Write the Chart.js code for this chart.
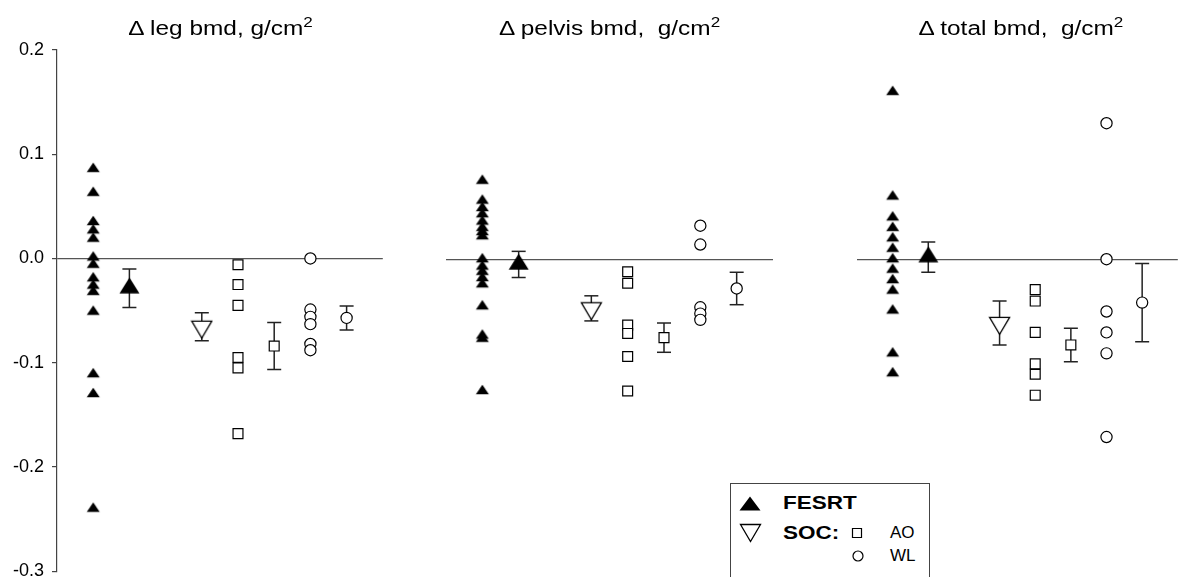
<!DOCTYPE html>
<html>
<head>
<meta charset="utf-8">
<script src="https://cdn.jsdelivr.net/npm/chart.js@4"></script>
<style>
  html, body { margin: 0; padding: 0; background: #fff; overflow: hidden; width: 1187px; height: 577px; }
  #wrap { position: relative; width: 1187px; height: 577px; overflow: hidden; font-family: "Liberation Sans", Arial, sans-serif; color: #000; }
  canvas.panel { position: absolute; top: 0; }
  .title { position: absolute; top: 16px; width: 340px; text-align: center; font-size: 20px; line-height: 24px; white-space: nowrap; }
  .title .t { display: inline-block; transform: scaleX(1.22); white-space: pre; }
  .title .sup { font-size: 14px; position: relative; top: -8px; }
  #legend { position: absolute; left: 730px; top: 483px; width: 200px; height: 110px; border: 1px solid #444; background: #fff; box-sizing: border-box; }
  .lg { position: absolute; white-space: nowrap; line-height: 20px; }
  .lg.bold { font-weight: bold; font-size: 18px; transform: scaleX(1.25); transform-origin: left center; }
  .lg.reg { font-size: 17px; }
  .mk { position: absolute; }
</style>
</head>
<body>
<div id="wrap">
  <canvas id="c0" class="panel"></canvas>
  <canvas id="c1" class="panel"></canvas>
  <canvas id="c2" class="panel"></canvas>
  <div id="legend"></div>
</div>
<script>
// titles and axis
const panelTitles = ['Δ leg bmd, g/cm', 'Δ pelvis bmd,  g/cm', 'Δ total bmd,  g/cm'];
const yTicks = [0.2, 0.1, 0.0, -0.1, -0.2, -0.3];
const yTickLabels = ['0.2', '0.1', '0.0', '-0.1', '-0.2', '-0.3'];

// column slot of each group along a panel (x runs 0..9)
const groupSlots = { fesrt: 1, fesrtMean: 2, socMean: 4, ao: 5, aoMean: 6, wl: 7, wlMean: 8 };

// individual changes, per panel: leg, pelvis, total
const fesrtLeg = [0.086, 0.063, 0.035, 0.027, 0.019, 0.001, -0.006, -0.019, -0.026, -0.032, -0.051, -0.111, -0.130, -0.240];
const fesrtPelvis = [0.075, 0.056, 0.049, 0.043, 0.036, 0.030, 0.026, 0.022, 0.0, -0.007, -0.012, -0.018, -0.024, -0.045, -0.073, -0.076, -0.126];
const fesrtTotal = [0.160, 0.060, 0.040, 0.030, 0.020, 0.010, 0.0, -0.010, -0.020, -0.030, -0.049, -0.090, -0.109];

const aoLeg = [-0.006, -0.025, -0.045, -0.095, -0.105, -0.168];
const aoPelvis = [-0.012, -0.023, -0.063, -0.071, -0.093, -0.126];
const aoTotal = [-0.029, -0.040, -0.070, -0.100, -0.110, -0.130];

const wlLeg = [0.0, -0.049, -0.056, -0.063, -0.082, -0.088];
const wlPelvis = [0.032, 0.014, -0.046, -0.052, -0.058];
const wlTotal = [0.130, 0.0, -0.050, -0.070, -0.090, -0.170];

// group means and error bars (leg, pelvis, total)
const fesrtMean = [-0.0285, -0.005, 0.002];
const fesrtErr = [0.0185, 0.0125, 0.0145];
const socMean = [-0.0655, -0.047, -0.061];
const socErr = [0.0135, 0.012, 0.021];
const aoMean = [-0.084, -0.075, -0.082];
const aoErr = [0.0225, 0.014, 0.016];
const wlMean = [-0.057, -0.028, -0.0415];
const wlErr = [0.0115, 0.0155, 0.0375];

const fesrtPoints = [fesrtLeg, fesrtPelvis, fesrtTotal];
const aoPoints = [aoLeg, aoPelvis, aoTotal];
const wlPoints = [wlLeg, wlPelvis, wlTotal];

// canvas placement of each panel
const panelBoxes = [
  { left: 0, width: 392, padL: 0, padR: 7 },
  { left: 436, width: 347, padL: 10, padR: 10 },
  { left: 847, width: 340, padL: 10, padR: 2 }
];
const titleCenters = [221, 609.5, 1021];

// triangle marker drawn so its centroid sits on the data point
function triCanvas(w, h, down, filled, centroid) {
  const extra = centroid ? h / 3 : 0;
  const c = document.createElement('canvas');
  c.width = Math.ceil(w + 3);
  c.height = Math.ceil(h + extra + 3);
  const g = c.getContext('2d');
  const ox = (c.width - w) / 2;
  const oy = (c.height - h - extra) / 2 + (down ? extra : 0);
  g.beginPath();
  if (!down) {
    g.moveTo(ox + w / 2, oy);
    g.lineTo(ox + w, oy + h);
    g.lineTo(ox, oy + h);
  } else {
    g.moveTo(ox, oy);
    g.lineTo(ox + w, oy);
    g.lineTo(ox + w / 2, oy + h);
  }
  g.closePath();
  if (filled) {
    g.fillStyle = '#000';
    g.fill();
  } else {
    g.fillStyle = '#fff';
    g.fill();
    g.lineWidth = 1.3;
    g.strokeStyle = '#000';
    g.stroke();
  }
  return c;
}

const smallTri = triCanvas(13, 9.5, false, true, true);
const bigTri = triCanvas(20, 16, false, true, true);
const downTri = triCanvas(20, 17, true, false, true);

function points(vals, slot, style, radius) {
  return {
    data: vals.map(v => ({ x: slot, y: v })),
    pointStyle: style,
    pointRadius: radius,
    backgroundColor: '#fff',
    borderColor: '#000',
    borderWidth: 1.2,
    order: 1
  };
}

function errBar(mean, err, slot) {
  return {
    data: [{ x: slot, y: mean - err }, { x: slot, y: mean + err }],
    showLine: true,
    borderColor: '#222',
    borderWidth: 1.5,
    pointStyle: 'line',
    pointRadius: 7,
    pointBorderWidth: 1.5,
    pointBorderColor: '#222',
    order: 2
  };
}

Chart.defaults.font.family = '"Liberation Sans", Arial, sans-serif';

panelBoxes.forEach((box, i) => {
  const cv = document.getElementById('c' + i);
  cv.width = box.width;
  cv.height = 590;
  cv.style.left = box.left + 'px';
  cv.style.width = box.width + 'px';
  cv.style.height = '590px';

  const datasets = [
    points(fesrtPoints[i], groupSlots.fesrt, smallTri, 6),
    points([fesrtMean[i]], groupSlots.fesrtMean, bigTri, 8),
    errBar(fesrtMean[i], fesrtErr[i], groupSlots.fesrtMean),
    points([socMean[i]], groupSlots.socMean, downTri, 8),
    errBar(socMean[i], socErr[i], groupSlots.socMean),
    points(aoPoints[i], groupSlots.ao, 'rect', 7),
    points([aoMean[i]], groupSlots.aoMean, 'rect', 7),
    errBar(aoMean[i], aoErr[i], groupSlots.aoMean),
    points(wlPoints[i], groupSlots.wl, 'circle', 5.6),
    points([wlMean[i]], groupSlots.wlMean, 'circle', 5.6),
    errBar(wlMean[i], wlErr[i], groupSlots.wlMean)
  ];

  new Chart(cv.getContext('2d'), {
    type: 'scatter',
    data: { datasets },
    options: {
      responsive: false,
      animation: false,
      devicePixelRatio: 1,
      layout: { padding: { left: box.padL, right: box.padR, top: 50, bottom: 17 } },
      plugins: { legend: { display: false }, tooltip: { enabled: false } },
      scales: {
        x: { type: 'linear', min: 0, max: 9, display: false },
        y: {
          type: 'linear',
          min: -0.3,
          max: 0.2,
          afterBuildTicks: s => { s.ticks = yTicks.map(v => ({ value: v })); },
          afterFit: s => { s.width = i === 0 ? 57 : 0; },
          border: { display: i === 0, color: '#444', width: 1.2 },
          grid: {
            color: c => (c.tick && Math.abs(c.tick.value) < 1e-9) ? '#555' : 'rgba(0,0,0,0)',
            lineWidth: 1.2,
            drawTicks: i === 0,
            tickLength: 5,
            tickColor: '#444',
            tickWidth: 1.2
          },
          ticks: {
            display: i === 0,
            padding: 8,
            color: '#000',
            font: { size: 18 },
            callback: v => yTickLabels[yTicks.findIndex(t => Math.abs(t - v) < 1e-9)]
          }
        }
      }
    }
  });

  // panel title
  const t = document.createElement('div');
  t.className = 'title';
  t.style.left = (titleCenters[i] - 170) + 'px';
  const inner = document.createElement('span');
  inner.className = 't';
  inner.textContent = panelTitles[i];
  const sup = document.createElement('span');
  sup.className = 'sup';
  sup.textContent = '2';
  inner.appendChild(sup);
  t.appendChild(inner);
  document.getElementById('wrap').appendChild(t);
});

// legend
const wrap = document.getElementById('wrap');
function placeMarker(c, cx, cy) {
  c.className = 'mk';
  c.style.left = (cx - c.width / 2) + 'px';
  c.style.top = (cy - c.height / 2) + 'px';
  wrap.appendChild(c);
}
function shapeCanvas(kind) {
  const c = document.createElement('canvas');
  c.width = 14; c.height = 14;
  const g = c.getContext('2d');
  g.strokeStyle = '#000';
  g.lineWidth = 1.2;
  g.beginPath();
  if (kind === 'rect') g.rect(2.5, 2.5, 9, 9);
  else g.arc(7, 7, 5, 0, Math.PI * 2);
  g.stroke();
  return c;
}
function addLabel(text, cls, left, top) {
  const d = document.createElement('div');
  d.className = 'lg ' + cls;
  d.style.left = left + 'px';
  d.style.top = top + 'px';
  d.textContent = text;
  wrap.appendChild(d);
}
placeMarker(triCanvas(21, 14, false, true, false), 750, 503);
placeMarker(triCanvas(20, 17, true, false, false), 750, 533);
placeMarker(shapeCanvas('rect'), 857, 533);
placeMarker(shapeCanvas('circle'), 858, 556);
addLabel('FESRT', 'bold', 783, 493);
addLabel('SOC:', 'bold', 783, 523);
addLabel('AO', 'reg', 890, 523);
addLabel('WL', 'reg', 890, 546);
</script>
</body>
</html>
